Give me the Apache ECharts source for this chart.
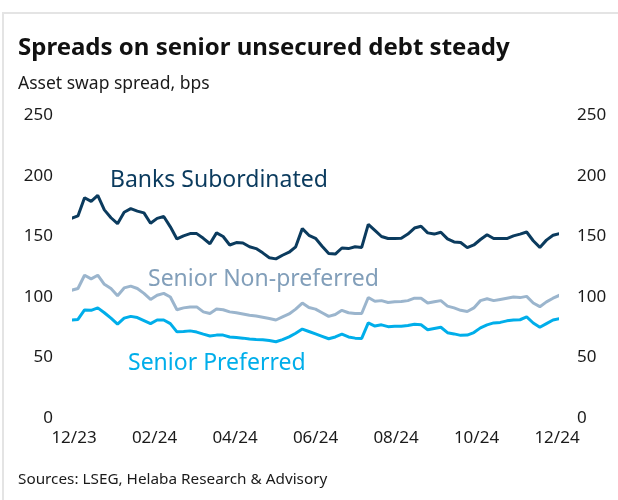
<!DOCTYPE html>
<html>
<head>
<meta charset="utf-8">
<script src="https://cdn.jsdelivr.net/npm/echarts@6/dist/echarts.min.js"></script>
<style>
html,body{margin:0;padding:0;background:#fff;}
#chart{width:618px;height:500px;}
</style>
</head>
<body>
<div id="chart"></div>
<script>
// ---- Data ----
const dates = [
 '2023-11-29','2023-12-04','2023-12-09','2023-12-14','2023-12-19','2023-12-24','2023-12-29',
 '2024-01-03','2024-01-08','2024-01-13','2024-01-18','2024-01-23','2024-01-28',
 '2024-02-02','2024-02-07','2024-02-12','2024-02-17','2024-02-22','2024-02-27',
 '2024-03-03','2024-03-08','2024-03-13','2024-03-18','2024-03-23','2024-03-28',
 '2024-04-02','2024-04-07','2024-04-12','2024-04-17','2024-04-22','2024-04-27',
 '2024-05-02','2024-05-07','2024-05-12','2024-05-17','2024-05-22','2024-05-27',
 '2024-06-01','2024-06-06','2024-06-11','2024-06-16','2024-06-21','2024-06-26',
 '2024-07-01','2024-07-06','2024-07-11','2024-07-16','2024-07-21','2024-07-26','2024-07-31',
 '2024-08-05','2024-08-10','2024-08-15','2024-08-20','2024-08-25','2024-08-30',
 '2024-09-04','2024-09-09','2024-09-14','2024-09-19','2024-09-24','2024-09-29',
 '2024-10-04','2024-10-09','2024-10-14','2024-10-19','2024-10-24','2024-10-29',
 '2024-11-03','2024-11-08','2024-11-13','2024-11-18','2024-11-23','2024-11-28','2024-12-03'
];

const banksSubordinated = [
 165,167,182,179,184,172,165.5,160.6,170,173,171,169.5,161,165,166.5,158,148,150.5,152.4,152.4,
 148.5,144,153,150,143,145,144.6,141.5,140,136.5,132.5,131.5,134.5,137,141.5,156.5,151,148.5,142,136,
 135.5,140.5,140,141.5,141,160,155,150,148.3,148.3,148.5,152,157,158.5,153,152,153.5,148,145.5,145,
 140.8,143,147.5,151.5,148.3,148.3,148.3,150.5,152,153.7,146.5,141,147,151,152.4
];

const seniorNonPreferred = [
 105.5,107,118,115,118,110.5,107,101,107.5,109,107,103,98,101.5,103,100,89.5,91,91.8,91.8,
 87.7,86.4,90,89.5,87.7,87,86,85,84.3,83.3,82.3,81,83.5,86,90,95,91.3,90,87,84,
 85.5,89,87,86.4,86.4,99.6,96.5,97,95.5,96,96.3,97,99,99,95,96,97,92.5,91,89,
 88,91,97,98.5,97,98,99,100,99.5,100.5,95,92,96,99,101.5
];

const seniorPreferred = [
 81,81.5,89.3,89,91,87,82.5,77.5,82.5,84,83,80.5,78,81,81,78,71.2,71.5,72,71,
 69.3,67.8,68.5,68.5,67,66.6,66,65.2,64.8,64.6,64,63,64.8,67,70,73.5,71.5,69.5,67.5,65.5,
 67,69.3,67,66,65.8,78.6,76,77,75.5,75.9,75.9,76.5,77.4,77,73,74,75,70.5,69.5,68.3,
 68.5,70.6,74.5,77,78.6,79,80.3,81,81.2,83.5,78.5,75,78,81,82.2
];

const xTickLabels = ['12/23','02/24','04/24','06/24','08/24','10/24','12/24'];
const seriesNames = ['Banks Subordinated','Senior Non-preferred','Senior Preferred'];

// ---- Build ----
const ORIGIN = Date.parse('2023-12-01');
const DAY = 86400000;
const dayOf = d => (Date.parse(d) - ORIGIN) / DAY;
const toPairs = vals => dates.map((d, i) => [dayOf(d), vals[i]]);

const FONT = '"Noto Sans", "Open Sans", sans-serif';
const C_BANKS = '#0b3b5e';
const C_SNP = '#9bb5cd';
const C_SNP_TXT = '#829fba';
const C_SP = '#00aeea';

const chart = echarts.init(document.getElementById('chart'), null, {renderer: 'canvas'});

const yAxisBase = {
  type: 'value', min: 0, max: 250, interval: 50,
  axisLine: {show: false}, axisTick: {show: false}, splitLine: {show: false},
  axisLabel: {color: '#1a1a1a', fontSize: 17, fontFamily: FONT}
};

chart.setOption({
  animation: false,
  backgroundColor: '#ffffff',
  textStyle: {fontFamily: FONT},
  grid: {left: 74, right: 61, top: 115.5, bottom: 82, containLabel: false, outerBoundsMode: 'none'},
  xAxis: {
    type: 'value', min: 0, max: 366, interval: 61,
    axisLine: {show: false}, axisTick: {show: false}, splitLine: {show: false},
    axisLabel: {
      color: '#1a1a1a', fontSize: 17, fontFamily: FONT, margin: 12,
      formatter: v => xTickLabels[Math.round(v / 61)] || ''
    }
  },
  yAxis: [
    Object.assign({}, yAxisBase, {position: 'left', axisLabel: Object.assign({}, yAxisBase.axisLabel, {margin: 21})}),
    Object.assign({}, yAxisBase, {position: 'right', axisLabel: Object.assign({}, yAxisBase.axisLabel, {margin: 20})})
  ],
  series: [
    {name: seriesNames[0], type: 'line', data: toPairs(banksSubordinated), showSymbol: false, clip: false,
     lineStyle: {color: C_BANKS, width: 3}, itemStyle: {color: C_BANKS}},
    {name: seriesNames[1], type: 'line', data: toPairs(seniorNonPreferred), showSymbol: false, clip: false,
     lineStyle: {color: C_SNP, width: 3}, itemStyle: {color: C_SNP}},
    {name: seriesNames[2], type: 'line', data: toPairs(seniorPreferred), showSymbol: false, clip: false,
     lineStyle: {color: C_SP, width: 3}, itemStyle: {color: C_SP}}
  ],
  graphic: [
    {type: 'rect', shape: {x: 3, y: 13, width: 700, height: 600}, style: {fill: 'none', stroke: '#e4e4e4', lineWidth: 2}, silent: true},
    {type: 'text', left: 18, top: 36, style: {text: 'Spreads on senior unsecured debt steady', font: 'bold 24px ' + FONT, fill: '#111111'}},
    {type: 'text', left: 18, top: 75, style: {text: 'Asset swap spread, bps', font: '17.5px ' + FONT, fill: '#1a1a1a'}},
    {type: 'text', left: 18, top: 472, style: {text: 'Sources: LSEG, Helaba Research & Advisory', font: '15.3px ' + FONT, fill: '#1a1a1a'}},
    {type: 'text', left: 110, top: 169, style: {text: seriesNames[0], font: '23px ' + FONT, fill: C_BANKS}},
    {type: 'text', left: 148, top: 268, style: {text: seriesNames[1], font: '23px ' + FONT, fill: C_SNP_TXT}},
    {type: 'text', left: 128, top: 352, style: {text: seriesNames[2], font: '23px ' + FONT, fill: C_SP}}
  ]
});
</script>
</body>
</html>
